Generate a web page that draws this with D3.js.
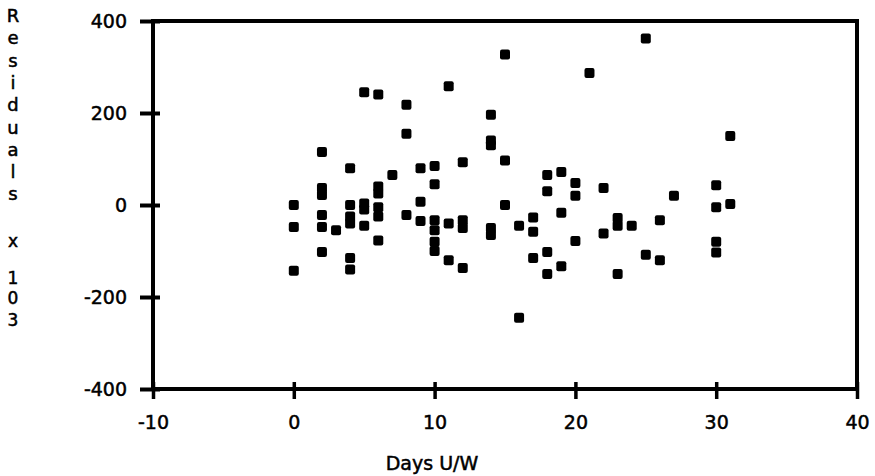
<!DOCTYPE html>
<html>
<head>
<meta charset="utf-8">
<script src="https://cdn.jsdelivr.net/npm/d3@7/dist/d3.min.js"></script>
<style>
  html, body { margin: 0; padding: 0; background: #fff; }
  svg { display: block; }
  text { font-family: "DejaVu Sans", sans-serif; fill: #000; stroke: #000; stroke-width: 0.5px; }
</style>
</head>
<body>
<svg id="chart" width="875" height="476"></svg>
<script>
// Data (Days U/W vs Residuals x 10^3)
const days = [
  0, 0, 0,
  2, 2, 2, 2, 2, 2,
  3,
  4, 4, 4, 4, 4, 4,
  5, 5, 5, 5,
  6, 6, 6, 6, 6, 6,
  7,
  8, 8, 8,
  9, 9, 9,
  10, 10, 10, 10, 10, 10,
  11, 11, 11,
  12, 12, 12, 12,
  14, 14, 14, 14, 14,
  15, 15, 15,
  16, 16,
  17, 17, 17,
  18, 18, 18, 18,
  19, 19, 19,
  20, 20, 20,
  21,
  22, 22,
  23, 23, 23,
  24,
  25, 25,
  26, 26,
  27,
  30, 30, 30, 30,
  31, 31
];
const residuals = [
  0, -48, -143,
  115, 37, 22, -22, -48, -102,
  -55,
  80, 0, -25, -40, -115, -140,
  245, 3, -10, -45,
  240, 40, 25, -5, -25, -77,
  65,
  218, 155, -22,
  80, 7, -35,
  85, 45, -33, -55, -80, -100,
  258, -40, -120,
  93, -33, -50, -137,
  196, 140, 130, -50, -65,
  327, 97, 0,
  -45, -245,
  -27, -58, -115,
  65, 30, -102, -150,
  72, -17, -133,
  48, 20, -78,
  287,
  37, -62,
  -28, -45, -150,
  -45,
  362, -108,
  -33, -120,
  20,
  43, -5, -80, -103,
  150, 2
];
const xTicks = [-10, 0, 10, 20, 30, 40];
const yTicks = [-400, -200, 0, 200, 400];
const xTitle = "Days U/W";
const yTitleLetters = ["R", "e", "s", "i", "d", "u", "a", "l", "s"];
const yTitleSuffix = ["x", "1", "0", "3"];

const svg = d3.select("#chart");
const pLeft = 153, pRight = 857, pTop = 21, pBottom = 389;

const x = d3.scaleLinear().domain([-10, 40]).range([pLeft, pRight]);
const y = d3.scaleLinear().domain([-400, 400]).range([pBottom, pTop]);
const fmt = d => String(d);

// Frame
svg.append("rect")
  .attr("x", pLeft).attr("y", pTop)
  .attr("width", pRight - pLeft).attr("height", pBottom - pTop)
  .attr("fill", "none").attr("stroke", "#000").attr("stroke-width", 4);

// Y axis (ticks crossing the frame line)
const yAxis = d3.axisLeft(y).tickValues(yTicks).tickSize(13).tickPadding(8).tickFormat(fmt);
const gy = svg.append("g").attr("transform", `translate(${pLeft},0)`).call(yAxis);
gy.select(".domain").remove();
gy.selectAll(".tick line").attr("stroke", "#000").attr("stroke-width", 4)
  .attr("x2", -13).attr("x1", 7);
gy.selectAll(".tick text").attr("font-size", 19).attr("font-family", "DejaVu Sans, sans-serif")
  .attr("x", -26);

// X axis
const xAxis = d3.axisBottom(x).tickValues(xTicks).tickSize(10).tickPadding(14).tickFormat(fmt);
const gx = svg.append("g").attr("transform", `translate(0,${pBottom})`).call(xAxis);
gx.select(".domain").remove();
gx.selectAll(".tick line").attr("stroke", "#000").attr("stroke-width", 3.5)
  .attr("y1", -7).attr("y2", 10);
gx.selectAll(".tick text").attr("font-size", 19).attr("font-family", "DejaVu Sans, sans-serif")
  .attr("y", 27);

// Titles
svg.append("text").attr("x", (x(10) + x(20)) / 2 - 73).attr("y", 470)
  .attr("text-anchor", "middle").attr("font-size", 19).text(xTitle);

const yt = svg.append("g");
yTitleLetters.forEach((ch, i) => {
  yt.append("text").attr("x", 13).attr("y", 22 + i * 22.3)
    .attr("text-anchor", "middle").attr("font-size", 18).text(ch);
});
const suffixY = [247, 284, 304, 326];
yTitleSuffix.forEach((ch, i) => {
  yt.append("text").attr("x", 13).attr("y", suffixY[i])
    .attr("text-anchor", "middle").attr("font-size", 17).text(ch);
});

// Points
const pts = days.map((d, i) => ({ d, r: residuals[i] }));
const s = 10;
svg.append("g").selectAll("rect").data(pts).join("rect")
  .attr("x", p => x(p.d) - s / 2)
  .attr("y", p => y(p.r) - s / 2)
  .attr("width", s).attr("height", s)
  .attr("rx", 2).attr("ry", 2)
  .attr("fill", "#000");
</script>
</body>
</html>
